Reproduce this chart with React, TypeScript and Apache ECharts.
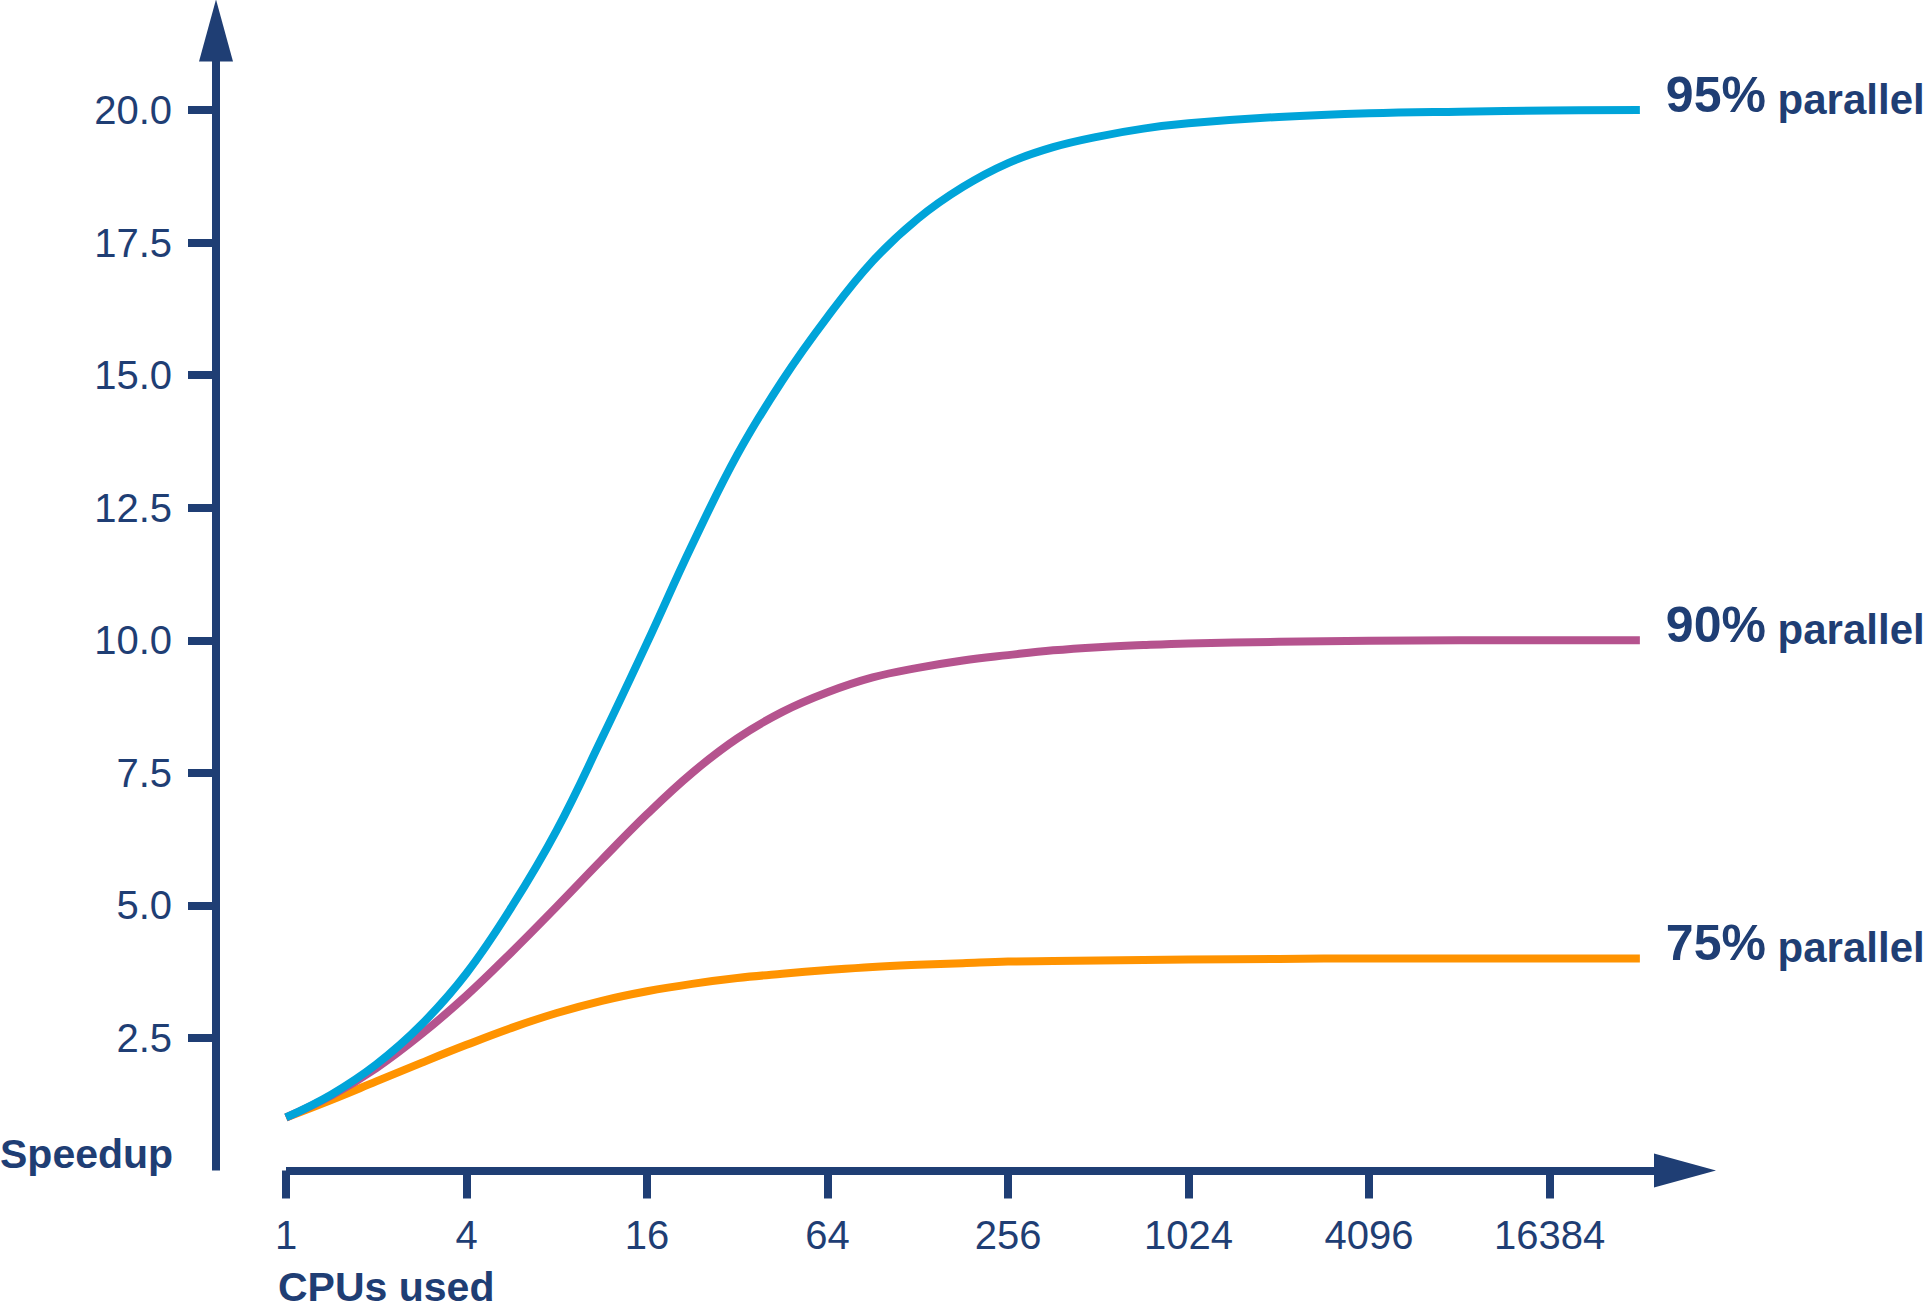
import React, { useEffect, useRef } from "react";
import * as echarts from "echarts";

// Data (CPU counts at half powers of two, then powers of two)
const cpus = [
  1, 1.414, 2, 2.828, 4, 5.657, 8, 11.31, 16, 22.63, 32, 45.25, 64, 90.51, 128, 181.0, 256, 362.0, 512, 724.1,
  1024, 2048, 4096, 8192, 16384, 32768,
];
const speedup95 = [
  1.0, 1.43, 2.0, 2.75, 3.72, 4.97, 6.42, 8.15, 9.95, 11.8, 13.5, 14.9, 16.1, 17.15, 17.95, 18.55, 19.0, 19.3, 19.5,
  19.65, 19.75, 19.87, 19.94, 19.97, 19.99, 20.0,
];
const speedup90 = [
  1.0, 1.41, 1.93, 2.57, 3.3, 4.12, 4.98, 5.86, 6.72, 7.5, 8.15, 8.65, 9.02, 9.3, 9.48, 9.62, 9.72, 9.81, 9.87, 9.91,
  9.94, 9.97, 9.99, 10.0, 10.0, 10.0,
];
const speedup75 = [
  1.0, 1.33, 1.68, 2.03, 2.37, 2.69, 2.97, 3.2, 3.38, 3.52, 3.63, 3.71, 3.78, 3.84, 3.88, 3.91, 3.94, 3.95, 3.96,
  3.97, 3.98, 3.99, 4.0, 4.0, 4.0, 4.0,
];
const seriesPercents = ["95%", "90%", "75%"];
const seriesSuffix = "parallel";
const yTicks = [2.5, 5, 7.5, 10, 12.5, 15, 17.5, 20];
const xTickMax = 16384;
const xAxisEnd = 46341; // where the x axis arrow sits
const yAxisEnd = 21.5; // where the y axis arrow sits
const xAxisTitle = "CPUs used";
const yAxisTitle = "Speedup";

const NAVY = "#1f3e74";
const COLORS = ["#00a4d9", "#b5538e", "#ff9300"];
const FONT = '"Liberation Sans", Arial, Helvetica, sans-serif';

export default function App() {
  const ref = useRef<HTMLDivElement>(null);

  useEffect(() => {
    if (!ref.current) return;
    const chart = echarts.init(ref.current, undefined, { renderer: "svg" });

    const W = 1924;
    const left = 286;
    const right0 = 239;
    const top = 30.5;
    const bottom = 140.5;
    const width0 = W - left - right0;
    const width1 = (width0 * Math.log(xTickMax)) / Math.log(xAxisEnd);
    const right1 = W - left - width1;

    const allSeries = [speedup95, speedup90, speedup75];

    const option: any = {
      animation: false,
      backgroundColor: "#ffffff",
      grid: [
        { left, right: right0, top, bottom, containLabel: false },
        { left, right: right1, top, bottom, containLabel: false },
      ],
      xAxis: [
        {
          gridIndex: 0,
          type: "log",
          logBase: 4,
          min: 1,
          max: xAxisEnd,
          axisLine: {
            show: true,
            onZero: false,
            symbol: ["none", "triangle"],
            symbolSize: [34, 62],
            lineStyle: { color: NAVY, width: 8, cap: "butt" },
          },
          axisTick: { show: false },
          axisLabel: { show: false },
          splitLine: { show: false },
          minorTick: { show: false },
          minorSplitLine: { show: false },
        },
        {
          gridIndex: 1,
          type: "log",
          logBase: 4,
          min: 1,
          max: xTickMax,
          axisLine: { show: false, onZero: false },
          axisTick: {
            show: true,
            length: 28,
            lineStyle: { color: NAVY, width: 8, cap: "butt" },
          },
          axisLabel: {
            show: true,
            margin: 44,
            fontSize: 40,
            fontFamily: FONT,
            color: NAVY,
            formatter: (v: number) => String(Math.round(v)),
          },
          splitLine: { show: false },
        },
      ],
      yAxis: [
        {
          gridIndex: 0,
          type: "value",
          position: "left",
          offset: 70,
          min: 0,
          max: yAxisEnd,
          axisLine: {
            show: true,
            onZero: false,
            symbol: ["none", "triangle"],
            symbolSize: [34, 62],
            lineStyle: { color: NAVY, width: 8, cap: "butt" },
          },
          axisTick: {
            show: true,
            length: 28,
            customValues: yTicks,
            lineStyle: { color: NAVY, width: 8, cap: "butt" },
          },
          axisLabel: {
            show: true,
            customValues: yTicks,
            margin: 44,
            fontSize: 40,
            fontFamily: FONT,
            color: NAVY,
            formatter: (v: number) => v.toFixed(1),
          },
          splitLine: { show: false },
        },
        {
          gridIndex: 1,
          type: "value",
          show: false,
          min: 0,
          max: 1,
        },
      ],
      graphic: [
        {
          type: "text",
          x: 0,
          y: 1154,
          style: {
            text: yAxisTitle,
            fontSize: 41,
            fontWeight: "bold",
            fontFamily: FONT,
            fill: NAVY,
            align: "left",
            verticalAlign: "middle",
          },
        },
        {
          type: "text",
          x: 278,
          y: 1287,
          style: {
            text: xAxisTitle,
            fontSize: 41,
            fontWeight: "bold",
            fontFamily: FONT,
            fill: NAVY,
            align: "left",
            verticalAlign: "middle",
          },
        },
      ],
      series: allSeries.map((vals, i) => ({
        type: "line",
        xAxisIndex: 0,
        yAxisIndex: 0,
        name: seriesPercents[i],
        data: cpus.map((n, j) => [n, vals[j]]),
        smooth: 0.4,
        showSymbol: false,
        symbol: "none",
        clip: false,
        lineStyle: { color: COLORS[i], width: 8, cap: "butt", join: "round" },
        itemStyle: { color: COLORS[i] },
        z: 3 - i,
        endLabel: {
          show: true,
          distance: 26,
          offset: [0, -15],
          formatter: "{a|" + seriesPercents[i] + "} {b|" + seriesSuffix + "}",
          color: NAVY,
          fontFamily: FONT,
          fontWeight: "bold",
          fontSize: 42,
          rich: {
            a: {
              fontSize: 50,
              fontWeight: "bold",
              fontFamily: FONT,
              color: NAVY,
              verticalAlign: "bottom",
            },
            b: {
              fontSize: 42,
              fontWeight: "bold",
              fontFamily: FONT,
              color: NAVY,
              verticalAlign: "bottom",
            },
          },
        },
      })),
    };

    chart.setOption(option);
    return () => {
      chart.dispose();
    };
  }, []);

  return (
    <div
      ref={ref}
      style={{
        position: "fixed",
        left: 0,
        top: 0,
        width: 1924,
        height: 1311,
        background: "#ffffff",
      }}
    />
  );
}
